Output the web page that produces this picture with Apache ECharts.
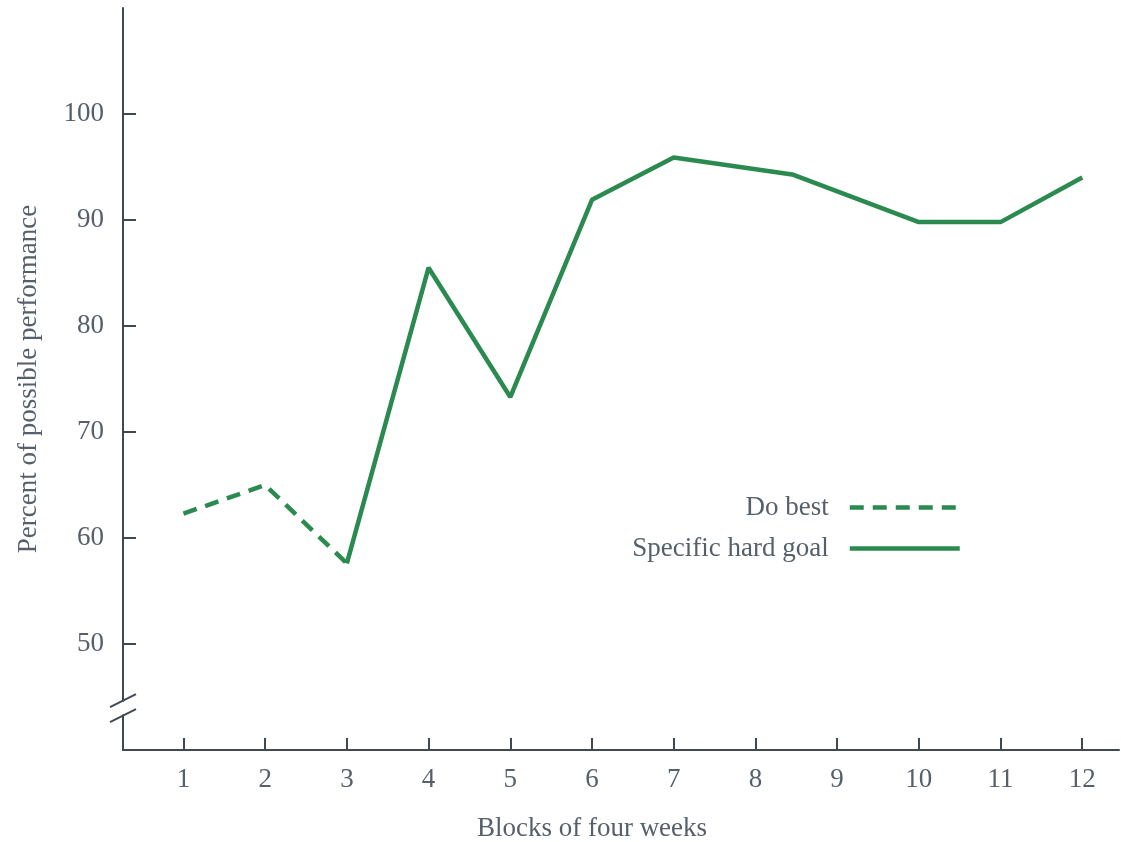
<!DOCTYPE html>
<html>
<head>
<meta charset="utf-8">
<script src="https://cdn.jsdelivr.net/npm/echarts@6/dist/echarts.min.js"></script>
<style>
html,body{margin:0;padding:0;background:#fff;}
#chart{width:1121px;height:842px;}
</style>
</head>
<body>
<div id="chart"></div>
<script>
// ---- data ----
var blockTicks = [1,2,3,4,5,6,7,8,9,10,11,12];
var yTicks = [50,60,70,80,90,100];
var doBestX = [1,2,3];
var doBestY = [62.3,65.0,57.6];
var hardX = [3,4,5,6,7,8.45,10,11,12];
var hardY = [57.6,85.5,73.3,91.9,95.9,94.3,89.8,89.8,94.0];
var breakVals = [44.65,43.25];

var FONT = '"Liberation Serif", "DejaVu Serif", serif';
var TXT = '#56606b';
var AX = '#3f4952';
var GREEN = '#2b8a4f';
var DASH = [14,9];

function pairs(xs, ys){ return xs.map(function(x,i){ return [x, ys[i]]; }); }

var chart = echarts.init(document.getElementById('chart'));
var XMIN = 0.26, XMAX = 12.45, YMIN = 40, YMAX = 110;
function legendFor(name, top, dashType){
  return {data:[name], right:159, top:top, padding:0, align:'right',
    itemWidth:110, itemHeight:14,
    lineStyle:{width:4.5, type:dashType, color:GREEN},
    itemStyle:{opacity:0, borderWidth:0},
    textStyle:{fontFamily:FONT, fontSize:27, color:TXT, padding:[4,16,0,0]}};
}
chart.setOption({
  animation:false,
  backgroundColor:'#fff',
  grid:{left:123, right:2, top:8, bottom:92, containLabel:false, outerBoundsMode:'none'},
  xAxis:{
    type:'value', min:XMIN, max:XMAX,
    name:'Blocks of four weeks', nameLocation:'middle', nameGap:65,
    nameTextStyle:{fontFamily:FONT, fontSize:27, color:TXT, padding:[0,58,0,0]},
    axisLine:{show:true, lineStyle:{color:AX, width:2}},
    axisTick:{show:true, inside:true, length:12, customValues:blockTicks, lineStyle:{color:AX, width:2}},
    axisLabel:{show:true, customValues:blockTicks, margin:16, fontFamily:FONT, fontSize:27, color:TXT},
    splitLine:{show:false}
  },
  yAxis:{
    type:'value', min:YMIN, max:YMAX,
    name:'Percent of possible performance', nameLocation:'middle', nameGap:81,
    nameTextStyle:{fontFamily:FONT, fontSize:27, color:TXT},
    axisLine:{show:true, lineStyle:{color:AX, width:2}},
    axisTick:{show:true, inside:true, length:13, customValues:yTicks, lineStyle:{color:AX, width:2}},
    axisLabel:{show:true, customValues:yTicks, margin:19, fontFamily:FONT, fontSize:27, color:TXT},
    splitLine:{show:false}
  },
  legend:[
    legendFor('Do best', 494, DASH),
    legendFor('Specific hard goal', 535, 'solid')
  ],
  series:[
    {name:'Do best', type:'line', data:pairs(doBestX, doBestY), symbol:'none', showSymbol:false,
     lineStyle:{color:GREEN, width:4.5, type:DASH}, itemStyle:{color:GREEN}, z:3},
    {name:'Specific hard goal', type:'line', data:pairs(hardX, hardY), symbol:'none', showSymbol:false,
     lineStyle:{color:GREEN, width:4.5}, itemStyle:{color:GREEN}, z:3}
  ]
});

// axis break marks on the y axis
var p1 = chart.convertToPixel({gridIndex:0}, [XMIN, breakVals[0]]);
var p2 = chart.convertToPixel({gridIndex:0}, [XMIN, breakVals[1]]);
chart.setOption({
  graphic:[
    {type:'rect', shape:{x:p1[0]-4, y:p1[1]+1, width:8, height:p2[1]-p1[1]-2}, style:{fill:'#fff'}, z:10},
    {type:'line', shape:{x1:p1[0]-13, y1:p1[1]+6.5, x2:p1[0]+13, y2:p1[1]-6.5}, style:{stroke:AX, lineWidth:2}, z:11},
    {type:'line', shape:{x1:p2[0]-13, y1:p2[1]+6.5, x2:p2[0]+13, y2:p2[1]-6.5}, style:{stroke:AX, lineWidth:2}, z:11}
  ]
});
</script>
</body>
</html>
